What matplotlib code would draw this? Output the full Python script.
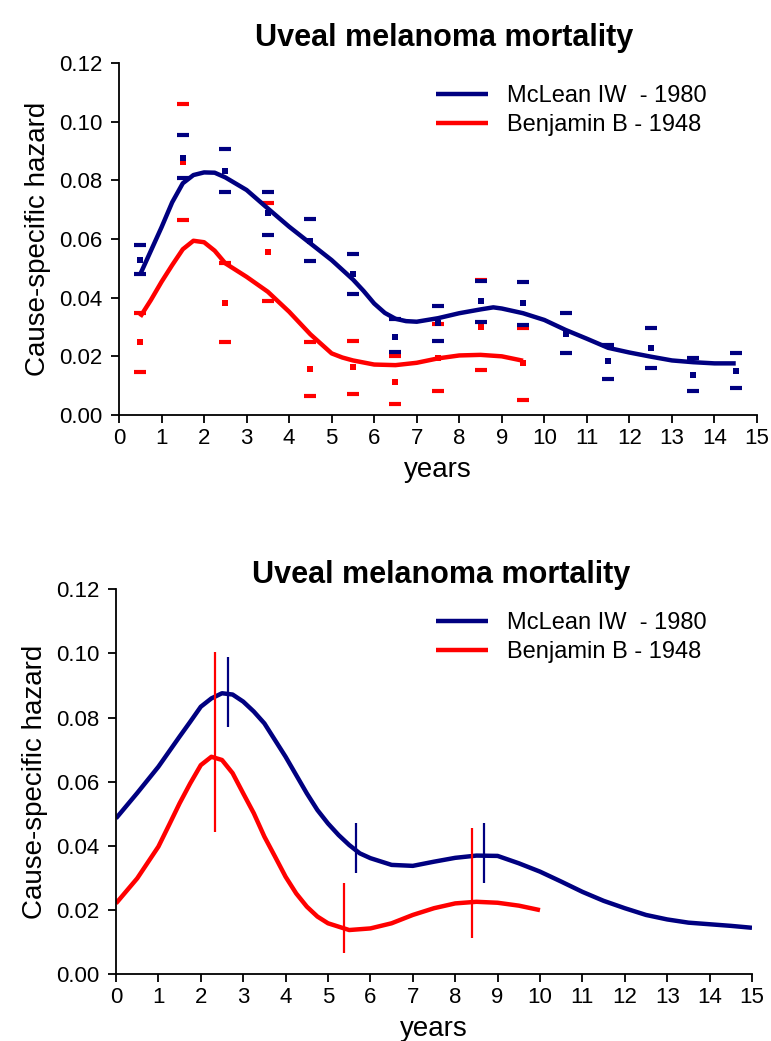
import numpy as np
import matplotlib
matplotlib.use("Agg")
import matplotlib.pyplot as plt

plt.rcParams['font.family'] = ['Liberation Sans', 'DejaVu Sans']

NAVY = '#000080'
RED = '#ff0000'

# --- top panel: yearly estimates with upper / lower marks
blue_pts_x = [0.5, 1.5, 2.5, 3.5, 4.5, 5.5, 6.5, 7.5, 8.5, 9.5, 10.5, 11.5, 12.5, 13.5, 14.5]
blue_hi = [0.058, 0.0954, 0.0907, 0.0759, 0.0667, 0.0549, 0.0327, 0.0371, 0.0458, 0.0454, 0.0347, 0.0238, 0.0295, 0.0195, 0.0212]
blue_mid = [0.0528, 0.0875, 0.0832, 0.0687, 0.0594, 0.048, 0.0267, 0.0312, 0.039, 0.0383, 0.0276, 0.0184, 0.0227, 0.0136, 0.0151]
blue_lo = [0.0479, 0.0807, 0.0759, 0.0614, 0.0525, 0.0411, 0.0216, 0.0252, 0.0318, 0.0307, 0.0212, 0.0124, 0.0159, 0.0082, 0.0093]

red_pts_x = [0.5, 1.5, 2.5, 3.5, 4.5, 5.5, 6.5, 7.5, 8.5, 9.5]
red_hi = [0.0347, 0.106, 0.0517, 0.0724, 0.0248, 0.0253, 0.0202, 0.031, 0.046, 0.0295]
red_mid = [0.0248, 0.0863, 0.0381, 0.0557, 0.0156, 0.0165, 0.0114, 0.0195, 0.0301, 0.0176]
red_lo = [0.0145, 0.0665, 0.0248, 0.039, 0.0065, 0.007, 0.0036, 0.0082, 0.0153, 0.0051]

# smoothed hazard curves, top panel
top_blue_x = [0.5, 0.75, 1, 1.25, 1.5, 1.75, 2, 2.25, 2.5, 3, 3.5, 4, 4.5, 5, 5.5, 5.75, 6, 6.25, 6.5, 6.75,
              7, 7.5, 8, 8.5, 8.8, 9, 9.5, 10, 10.5, 11, 11.5, 12, 12.5, 13, 13.5, 14, 14.5]
top_blue_y = [0.048, 0.056, 0.064, 0.0725, 0.079, 0.0818, 0.0827, 0.0826, 0.081, 0.0767, 0.0704, 0.0642, 0.0585,
              0.0528, 0.0462, 0.0423, 0.038, 0.0348, 0.0328, 0.032, 0.0318, 0.033, 0.0347, 0.036, 0.0367, 0.0363,
              0.0347, 0.0324, 0.029, 0.026, 0.0229, 0.0213, 0.0199, 0.0186, 0.0180, 0.0176, 0.0176]
top_red_x = [0.5, 0.75, 1, 1.25, 1.5, 1.75, 2, 2.25, 2.5, 3, 3.5, 4, 4.5, 5, 5.25, 5.5, 6, 6.5, 7, 7.5, 8, 8.5,
             9, 9.5]
top_red_y = [0.0335, 0.0392, 0.0454, 0.0511, 0.0565, 0.0594, 0.0589, 0.056, 0.0517, 0.0471, 0.042, 0.0352, 0.0275,
             0.021, 0.0196, 0.0186, 0.0172, 0.017, 0.0178, 0.0193, 0.0203, 0.0205, 0.0200, 0.0185]

# --- bottom panel: model curves
bot_blue_x = [0, 0.5, 1, 1.5, 1.75, 2, 2.25, 2.5, 2.75, 3, 3.25, 3.5, 3.75, 4, 4.25, 4.5, 4.75, 5, 5.25, 5.5,
              5.75, 6, 6.5, 7, 7.5, 8, 8.5, 9, 9.5, 10, 10.5, 11, 11.5, 12, 12.5, 13, 13.5, 14, 14.5, 15]
bot_blue_y = [0.0486, 0.0565, 0.0647, 0.0741, 0.0787, 0.0834, 0.086, 0.0876, 0.0872, 0.085, 0.0819, 0.0782, 0.073,
              0.0678, 0.0621, 0.0564, 0.0512, 0.047, 0.0434, 0.0403, 0.0377, 0.0362, 0.0341, 0.0338, 0.0351, 0.0363,
              0.037, 0.0369, 0.0346, 0.032, 0.0289, 0.0257, 0.0229, 0.0206, 0.0185, 0.0171, 0.0161, 0.0156, 0.0151,
              0.0145]
bot_red_x = [0, 0.5, 1, 1.25, 1.5, 1.75, 2, 2.25, 2.5, 2.75, 3, 3.25, 3.5, 3.75, 4, 4.25, 4.5, 4.75, 5, 5.5, 6,
             6.5, 7, 7.5, 8, 8.5, 9, 9.5, 10]
bot_red_y = [0.0221, 0.0299, 0.0398, 0.0465, 0.0533, 0.0595, 0.0652, 0.0678, 0.0668, 0.0627, 0.0564, 0.0502, 0.0429,
             0.0367, 0.0304, 0.0252, 0.0211, 0.018, 0.0159, 0.0138, 0.0143, 0.0159, 0.0185, 0.0206, 0.0221, 0.0226,
             0.0223, 0.0214, 0.020]

# confidence bars at peaks / troughs
blue_ci_x = [2.63, 5.65, 8.67]
blue_ci_hi = [0.0988, 0.0471, 0.0471]
blue_ci_lo = [0.0772, 0.0315, 0.0286]
red_ci_x = [2.34, 5.37, 8.39]
red_ci_hi = [0.1006, 0.0284, 0.0455]
red_ci_lo = [0.0445, 0.0067, 0.0112]

labels = ['McLean IW  - 1980', 'Benjamin B - 1948']
title = 'Uveal melanoma mortality'
yticks = [0, 0.02, 0.04, 0.06, 0.08, 0.10, 0.12]

fig = plt.figure(figsize=(7.71, 10.41), dpi=100)
ax1 = fig.add_axes([119 / 771, 1 - 415 / 1041, 638 / 771, 352 / 1041])
ax2 = fig.add_axes([116 / 771, 1 - 974.3 / 1041, 636 / 771, 385 / 1041])


def style_axes(ax):
    ax.set_xlim(0, 15)
    ax.set_ylim(0, 0.12)
    ax.set_xticks(range(16))
    ax.set_yticks(yticks)
    ax.set_yticklabels(['%.2f' % v for v in yticks])
    for s in ['top', 'right']:
        ax.spines[s].set_visible(False)
    for s in ['left', 'bottom']:
        ax.spines[s].set_linewidth(1.3)
    ax.tick_params(axis='y', direction='out', length=6, width=1.3, labelsize=16, pad=6)
    ax.tick_params(axis='x', direction='out', length=6, width=1.3, labelsize=16, pad=3)
    ax.set_xlabel('years', fontsize=20, labelpad=6)
    ax.set_ylabel('Cause-specific hazard', fontsize=20, labelpad=6)


# top panel
ax1.plot(red_pts_x, red_hi, ls='none', marker='_', ms=8, mew=3, color=RED, clip_on=False)
ax1.plot(red_pts_x, red_lo, ls='none', marker='_', ms=8, mew=3, color=RED, clip_on=False)
ax1.plot(red_pts_x, red_mid, ls='none', marker='s', ms=4, mew=0, color=RED, clip_on=False)
ax1.plot(blue_pts_x, blue_hi, ls='none', marker='_', ms=8, mew=3, color=NAVY, clip_on=False)
ax1.plot(blue_pts_x, blue_lo, ls='none', marker='_', ms=8, mew=3, color=NAVY, clip_on=False)
ax1.plot(blue_pts_x, blue_mid, ls='none', marker='s', ms=4, mew=0, color=NAVY, clip_on=False)
ax1.plot(top_blue_x, top_blue_y, color=NAVY, lw=3.2, label=labels[0], solid_capstyle='butt', solid_joinstyle='round')
ax1.plot(top_red_x, top_red_y, color=RED, lw=3.2, label=labels[1], solid_capstyle='butt', solid_joinstyle='round')
style_axes(ax1)

# bottom panel
ax2.plot(bot_blue_x, bot_blue_y, color=NAVY, lw=3.2, label=labels[0], solid_capstyle='butt', solid_joinstyle='round')
ax2.plot(bot_red_x, bot_red_y, color=RED, lw=3.2, label=labels[1], solid_capstyle='butt', solid_joinstyle='round')
ax2.vlines(blue_ci_x, blue_ci_lo, blue_ci_hi, color=NAVY, lw=1.6)
ax2.vlines(red_ci_x, red_ci_lo, red_ci_hi, color=RED, lw=1.6)
style_axes(ax2)

for ax, ytop in [(ax1, 1 - 85 / 1041), (ax2, 1 - 612 / 1041)]:
    ax.legend(loc='upper left', bbox_to_anchor=(436 / 771, ytop), bbox_transform=fig.transFigure,
              frameon=False, fontsize=17, handlelength=2.2, handletextpad=0.8, labelspacing=0.3,
              borderpad=0, borderaxespad=0)

fig.text(444 / 771, 1 - 38 / 1041, title, ha='center', va='center', fontsize=22, fontweight='bold')
fig.text(441 / 771, 1 - 575 / 1041, title, ha='center', va='center', fontsize=22, fontweight='bold')

fig.savefig('out.png', dpi=100)
